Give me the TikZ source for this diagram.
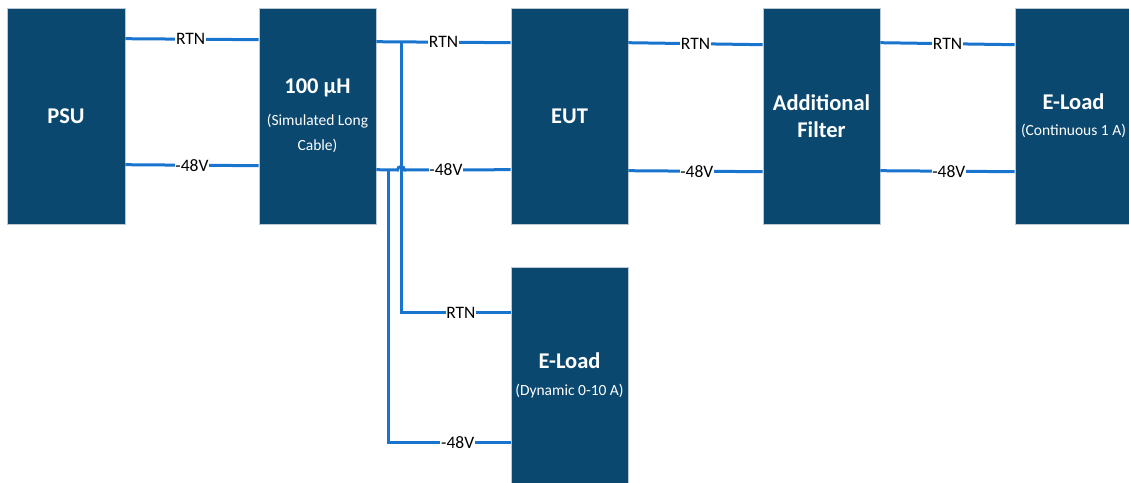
\documentclass[tikz,border=0pt]{standalone}
\usepackage{fontspec}
\setmainfont{Carlito}
\usetikzlibrary{calc}
\definecolor{boxblue}{RGB}{11,72,112}
\definecolor{wireblue}{RGB}{24,116,205}
\definecolor{boxedge}{RGB}{190,200,210}
\tikzset{
  block/.style={draw=boxedge, line width=0.6pt, fill=boxblue, minimum width=117pt, minimum height=216pt, inner sep=0pt, text=white, align=center},
  wire/.style={draw=wireblue, line width=3pt},
  lbl/.style={fill=white, inner sep=0.8pt, font=\fontsize{17.5}{20}\selectfont, text=black},
  ttl/.style={font=\fontsize{22.5}{26}\selectfont\bfseries, text=white},
  sub/.style={font=\fontsize{15.5}{25}\selectfont, text=white, align=center}
}
\begin{document}
\begin{tikzpicture}[x=1pt,y=-1pt]
\useasboundingbox (0,0) rectangle (1129,482);
% blocks
\node[block, minimum width=118pt] (psu) at (66,116) {};
\node[block] (ind) at (317.5,116) {};
\node[block] (eut) at (569.5,116) {};
\node[block] (flt) at (821.5,116.5) {};
\node[block] (el1) at (1073.5,116) {};
\node[block] (el2) at (569.5,375) {};
% texts
\node[ttl] (tpsu) at (psu.center) {PSU};
\node[ttl] (tind) at (317.5,88) {100 µH};
\node[sub] (sind) at (317.5,133) {(Simulated Long\\Cable)};
\node[ttl] (teut) at (eut.center) {EUT};
\node[ttl, align=center, font=\fontsize{22.5}{27}\selectfont\bfseries] (tflt) at (821.5,116) {Additional\\Filter};
\node[ttl] (tel1) at (1073.5,102) {E-Load};
\node[sub] (sel1) at (1073.5,131) {(Continuous 1 A)};
\node[ttl] (tel2) at (569.5,361) {E-Load};
\node[sub] (sel2) at (569.5,391) {(Dynamic 0-10 A)};
% coordinates on block edges
\coordinate (psuR) at ($(psu.north east)+(0,31)$);
\coordinate (psuV) at ($(psu.north east)+(0,157)$);
\coordinate (indRi) at ($(ind.north west)+(0,32)$);
\coordinate (indVi) at ($(ind.north west)+(0,158)$);
\coordinate (indRo) at ($(ind.north east)+(0,34)$);
\coordinate (indVo) at ($(ind.north east)+(0,162)$);
\coordinate (eutRi) at ($(eut.north west)+(0,35)$);
\coordinate (eutVi) at ($(eut.north west)+(0,162)$);
\coordinate (eutRo) at ($(eut.north east)+(0,35)$);
\coordinate (eutVo) at ($(eut.north east)+(0,163)$);
\coordinate (fltRi) at ($(flt.north west)+(0,36.5)$);
\coordinate (fltVi) at ($(flt.north west)+(0,163.5)$);
\coordinate (fltRo) at ($(flt.north east)+(0,34.5)$);
\coordinate (fltVo) at ($(flt.north east)+(0,162.5)$);
\coordinate (el1R) at ($(el1.north west)+(0,37)$);
\coordinate (el1V) at ($(el1.north west)+(0,164)$);
\coordinate (el2R) at ($(el2.north west)+(0,46)$);
\coordinate (el2V) at ($(el2.north west)+(0,176)$);
% tap points
\coordinate (tapR) at (401,42.5);
\coordinate (tapV) at (388,170);
% wires PSU -> inductor
\draw[wire] (psuR) -- node[lbl, pos=0.49] (l1) {RTN} (indRi);
\draw[wire] (psuV) -- node[lbl, pos=0.5] (l2) {-48V} (indVi);
% inductor -> EUT
\draw[wire] (indRo) -- node[lbl, pos=0.5] (l3) {RTN} (eutRi);
\draw[wire] (indVo) -- (397.5,170) arc[start angle=180, end angle=360, radius=3.5] -- node[lbl, pos=0.39] (l4) {-48V} (eutVi);
% EUT -> filter
\draw[wire] (eutRo) -- node[lbl, pos=0.5] (l5) {RTN} (fltRi);
\draw[wire] (eutVo) -- node[lbl, pos=0.51] (l6) {-48V} (fltVi);
% filter -> E-Load
\draw[wire] (fltRo) -- node[lbl, pos=0.5] (l7) {RTN} (el1R);
\draw[wire] (fltVo) -- node[lbl, pos=0.51] (l8) {-48V} (el1V);
% taps to dynamic load
\draw[wire] (tapR) |- node[lbl, pos=0.773] (l9) {RTN} (el2R);
\draw[wire] (tapV) |- node[lbl, pos=0.784] (l10) {-48V} (el2V);
\end{tikzpicture}
\end{document}
